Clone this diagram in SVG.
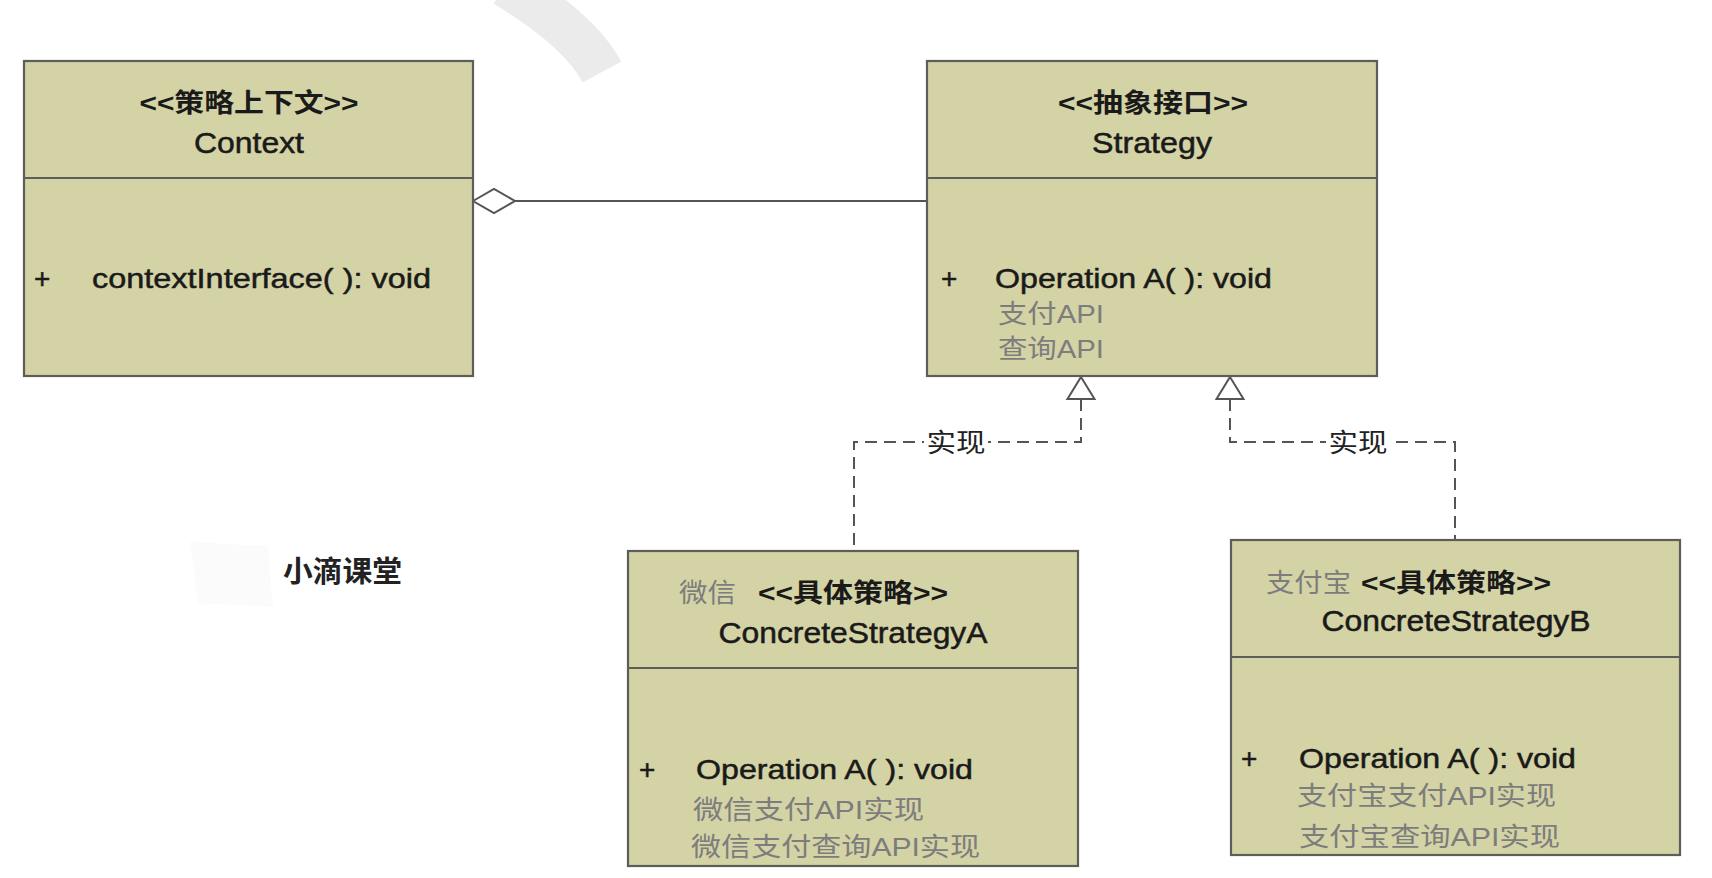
<svg xmlns="http://www.w3.org/2000/svg" width="1712" height="878" viewBox="0 0 1712 878">
<style>
.box{fill:#d4d3a5;stroke:#5e5e58;stroke-width:2.2}
.div{stroke:#5e5e58;stroke-width:2.2}
.t{font-family:"Liberation Sans","Noto Sans CJK SC",sans-serif;fill:#1a1a1a}
.title{font-size:26px;font-weight:bold}
.name{font-size:29px;stroke:#1a1a1a;stroke-width:0.5}
.mem{font-size:28px;stroke:#1a1a1a;stroke-width:0.5}
.gray{fill:#7d7d7d;font-size:26px}
.lbl{font-family:"Noto Sans CJK SC",sans-serif;font-size:26px;fill:#222}
.dash{fill:none;stroke:#555;stroke-width:2;stroke-dasharray:12 7}
.solid{fill:none;stroke:#555;stroke-width:2}
.head{fill:#fff;stroke:#555;stroke-width:2}
</style>
<rect width="1712" height="878" fill="#fff"/>
<g id="watermark">
<path d="M505,-15 Q579,29.5 602,72" fill="none" stroke="#ebebeb" stroke-width="44"/>
<path d="M190,542 L268,546 L273,607 L198,603 Z" fill="#fbfbfb"/>
<text x="283" y="582" class="t" style="font-size:29px;font-weight:bold;fill:#222" textLength="119" lengthAdjust="spacingAndGlyphs">小滴课堂</text>
</g>
<g id="connectors">
<line x1="515" y1="201" x2="927" y2="201" class="solid"/>
<path d="M473,201 L494,189 L515,201 L494,213 Z" class="head"/>
<path d="M1081,399 V442 H854 V551" class="dash"/>
<path d="M1230,399 V442 H1455 V540" class="dash"/>
<path d="M1081,377 L1094.5,399 L1067.5,399 Z" class="head"/>
<path d="M1230,377 L1243.5,399 L1216.5,399 Z" class="head"/>
<rect x="924" y="426" width="64" height="32" fill="#fff"/>
<text x="956" y="452" class="lbl" text-anchor="middle" textLength="59" lengthAdjust="spacingAndGlyphs">实现</text>
<rect x="1326" y="426" width="64" height="32" fill="#fff"/>
<text x="1358" y="452" class="lbl" text-anchor="middle" textLength="59" lengthAdjust="spacingAndGlyphs">实现</text>
</g>
<g id="context">
<rect x="24" y="61" width="449" height="315" class="box"/>
<line x1="24" y1="178" x2="473" y2="178" class="div"/>
<text x="249" y="112" class="t title" text-anchor="middle" textLength="219" lengthAdjust="spacingAndGlyphs">&lt;&lt;策略上下文&gt;&gt;</text>
<text x="249" y="153" class="t name" text-anchor="middle" textLength="110" lengthAdjust="spacingAndGlyphs">Context</text>
<text x="34" y="288" class="t mem">+</text>
<text x="92" y="288" class="t mem" textLength="339" lengthAdjust="spacingAndGlyphs">contextInterface( ): void</text>
</g>
<g id="strategy">
<rect x="927" y="61" width="450" height="315" class="box"/>
<line x1="927" y1="178" x2="1377" y2="178" class="div"/>
<text x="1153" y="112" class="t title" text-anchor="middle" textLength="190" lengthAdjust="spacingAndGlyphs">&lt;&lt;抽象接口&gt;&gt;</text>
<text x="1152" y="153" class="t name" text-anchor="middle" textLength="120" lengthAdjust="spacingAndGlyphs">Strategy</text>
<text x="941" y="288" class="t mem">+</text>
<text x="995" y="288" class="t mem" textLength="277" lengthAdjust="spacingAndGlyphs">Operation A( ): void</text>
<text x="998" y="323" class="t gray" textLength="106" lengthAdjust="spacingAndGlyphs">支付API</text>
<text x="998" y="358" class="t gray" textLength="106" lengthAdjust="spacingAndGlyphs">查询API</text>
</g>
<g id="concreteA">
<rect x="628" y="551" width="450" height="315" class="box"/>
<line x1="628" y1="668" x2="1078" y2="668" class="div"/>
<text x="679" y="602" class="t gray" textLength="57" lengthAdjust="spacingAndGlyphs">微信</text>
<text x="758" y="602" class="t title" textLength="190" lengthAdjust="spacingAndGlyphs">&lt;&lt;具体策略&gt;&gt;</text>
<text x="853" y="643" class="t name" text-anchor="middle" textLength="269" lengthAdjust="spacingAndGlyphs">ConcreteStrategyA</text>
<text x="639" y="779" class="t mem">+</text>
<text x="696" y="779" class="t mem" textLength="277" lengthAdjust="spacingAndGlyphs">Operation A( ): void</text>
<text x="693" y="819" class="t gray" textLength="231" lengthAdjust="spacingAndGlyphs">微信支付API实现</text>
<text x="691" y="856" class="t gray" textLength="289" lengthAdjust="spacingAndGlyphs">微信支付查询API实现</text>
</g>
<g id="concreteB">
<rect x="1231" y="540" width="449" height="315" class="box"/>
<line x1="1231" y1="657" x2="1680" y2="657" class="div"/>
<text x="1266" y="592" class="t gray" textLength="85" lengthAdjust="spacingAndGlyphs">支付宝</text>
<text x="1361" y="592" class="t title" textLength="190" lengthAdjust="spacingAndGlyphs">&lt;&lt;具体策略&gt;&gt;</text>
<text x="1456" y="631" class="t name" text-anchor="middle" textLength="269" lengthAdjust="spacingAndGlyphs">ConcreteStrategyB</text>
<text x="1241" y="768" class="t mem">+</text>
<text x="1299" y="768" class="t mem" textLength="277" lengthAdjust="spacingAndGlyphs">Operation A( ): void</text>
<text x="1297" y="805" class="t gray" textLength="259" lengthAdjust="spacingAndGlyphs">支付宝支付API实现</text>
<text x="1299" y="846" class="t gray" textLength="261" lengthAdjust="spacingAndGlyphs">支付宝查询API实现</text>
</g>
</svg>
